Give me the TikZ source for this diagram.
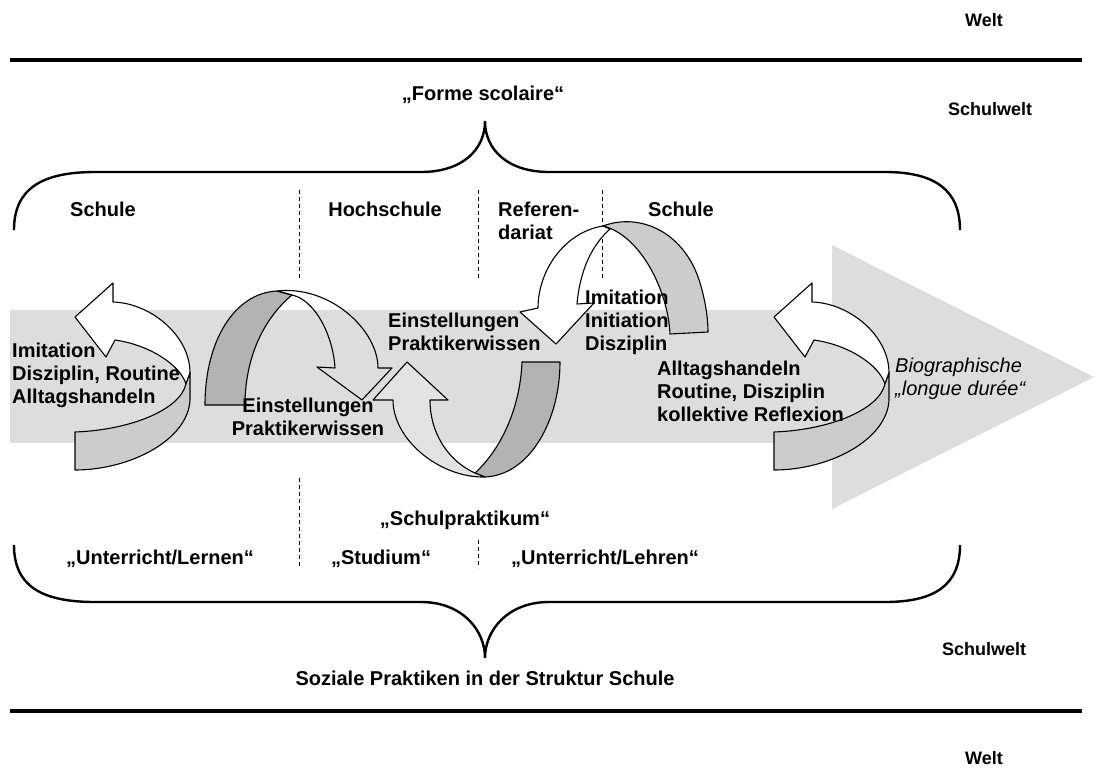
\documentclass[tikz,border=0pt]{standalone}
\usepackage{fontspec}
\setmainfont{Liberation Sans}
\usepackage{tikz}

\definecolor{bandgrau}{HTML}{DDDDDD}
\definecolor{hellgrau}{HTML}{CCCCCC}
\definecolor{dunkelgrau}{HTML}{B3B3B3}
\definecolor{bandhell}{HTML}{E3E3E3}

\begin{document}
\begin{tikzpicture}[x=1pt,y=-1pt,
		lbl/.style={font=\bfseries\fontsize{20}{23}\selectfont,inner sep=0pt},
		klein/.style={font=\bfseries\fontsize{18}{21}\selectfont,inner sep=0pt},
		ribbon/.style={draw=black,line width=1.1pt,line join=round},
		klammer/.style={line width=2.4pt},
		balken/.style={line width=4pt},
		trenner/.style={line width=0.9pt,dash pattern=on 4pt off 3pt}]
	\useasboundingbox (0,0) rectangle (1094,771);

	%welt
	\draw[balken] (10,60) -- (1082,60);
	\draw[balken] (10,711) -- (1082,711);
	\node[klein,anchor=base] (welttop) at (984,27) {Welt};
	\node[klein,anchor=base] (weltbot) at (984,764) {Welt};
	\node[klein,anchor=base] (schulwelttop) at (990,115) {Schulwelt};
	\node[klein,anchor=base] (schulweltbot) at (984,655) {Schulwelt};

	%biographie
	\fill[bandgrau] (10,310) rectangle (832,443);
	\fill[bandgrau] (832,245) -- (1094,377) -- (832,509) -- cycle;

	%klammern
	\draw[klammer] (14,230) .. controls (14,190) and (40,172) .. (95,172) -- (421,172)
		.. controls (462,172) and (485,150) .. (485,121)
		.. controls (485,150) and (508,172) .. (549,172) -- (885,172)
		.. controls (935,172) and (960,190) .. (960,230);
	\draw[klammer] (14,545) .. controls (14,585) and (40,602) .. (95,602) -- (421,602)
		.. controls (462,602) and (485,630) .. (485,658)
		.. controls (485,630) and (508,602) .. (549,602) -- (885,602)
		.. controls (935,602) and (960,585) .. (960,545);
	\node[lbl,anchor=base] (forme) at (483,100) {„Forme scolaire“};
	\node[lbl,anchor=base] (soziale) at (485,685) {Soziale Praktiken in der Struktur Schule};

	%phasen
	\foreach \x/\ya/\yb in {299/190/280,478/190/280,602/190/280,299/478/568,478/540/568}
	{
		\draw[trenner] (\x,\ya) -- (\x,\yb);
	}
	\node[lbl,anchor=base] (schule1) at (103,216) {Schule};
	\node[lbl,anchor=base] (hochschule) at (385,216) {Hochschule};
	\node[lbl,anchor=base west,align=left] (referendariat) at (498,239) {Referen-\\dariat};
	\node[lbl,anchor=base] (schule2) at (681,216) {Schule};
	\node[lbl,anchor=base] (lernen) at (160,564) {„Unterricht/Lernen“};
	\node[lbl,anchor=base] (studium) at (381,564) {„Studium“};
	\node[lbl,anchor=base] (lehren) at (605,564) {„Unterricht/Lehren“};
	\node[lbl,anchor=base] (praktikum) at (465,525) {„Schulpraktikum“};

	%schleifen links und rechts
	\foreach \dx in {0,699}
	{
		\begin{scope}[xshift=\dx]
			\draw[ribbon,fill=white] (75,317) -- (113,283) -- (113,302)
				.. controls (150,303) and (190,335) .. (190,373) -- (186,384)
				.. controls (180,365) and (150,345) .. (115,340) -- (106,357) -- cycle;
			\draw[ribbon,fill=hellgrau] (190,373) -- (190,400)
				.. controls (188,440) and (130,470) .. (75,470) -- (75,432)
				.. controls (130,430) and (180,410) .. (186,384) -- cycle;
		\end{scope}
	}

	%hochschule
	\draw[ribbon,fill=dunkelgrau] (205,405) .. controls (205,340) and (235,293) .. (277,291) -- (292,295)
		.. controls (262,320) and (245,360) .. (245,405) -- cycle;
	\draw[ribbon] (277,291) .. controls (330,285) and (378,330) .. (378,368) -- (392,368) -- (362,400)
		-- (317,367) -- (335,368) .. controls (333,335) and (315,300) .. (292,295) -- cycle;

	%schulpraktikum
	\draw[ribbon,fill=dunkelgrau] (522,362) -- (560,362) .. controls (560,420) and (530,475) .. (485,477)
		-- (475,473) .. controls (500,450) and (520,410) .. (522,362) -- cycle;
	\draw[ribbon,fill=bandhell] (485,477) .. controls (440,478) and (393,440) .. (393,400) -- (373,400)
		-- (407,362) -- (448,400) -- (430,400) .. controls (430,435) and (450,462) .. (475,473) -- cycle;

	%referendariat
	\draw[ribbon,fill=hellgrau] (603,226) .. controls (640,212) and (688,232) .. (702,290)
		.. controls (706,305) and (708,320) .. (708,332) -- (670,334)
		.. controls (668,290) and (640,235) .. (603,226) -- cycle;
	\draw[ribbon,fill=white] (603,226) .. controls (565,232) and (538,270) .. (538,308) -- (520,312)
		-- (556,344) -- (594,303) -- (577,304) .. controls (580,270) and (592,245) .. (610,229) -- cycle;

	%texte
	\node[lbl,anchor=base west,align=left] (imitlinks) at (12,403) {Imitation\\Disziplin, Routine\\Alltagshandeln};
	\node[lbl,anchor=base,align=center] (einstunten) at (308,435) {Einstellungen\\Praktikerwissen};
	\node[lbl,anchor=base west,align=left] (einstoben) at (388,350) {Einstellungen\\Praktikerwissen};
	\node[lbl,anchor=base west,align=left] (imitrechts) at (585,350) {Imitation\\Initiation\\Disziplin};
	\node[lbl,anchor=base west,align=left] (alltag) at (657,421) {Alltagshandeln\\Routine, Disziplin\\kollektive Reflexion};
	\node[inner sep=0pt,font=\itshape\fontsize{20}{23}\selectfont,anchor=base west,align=left] (longue) at (895,395) {Biographische\\„longue durée“};

\end{tikzpicture}
\end{document}
